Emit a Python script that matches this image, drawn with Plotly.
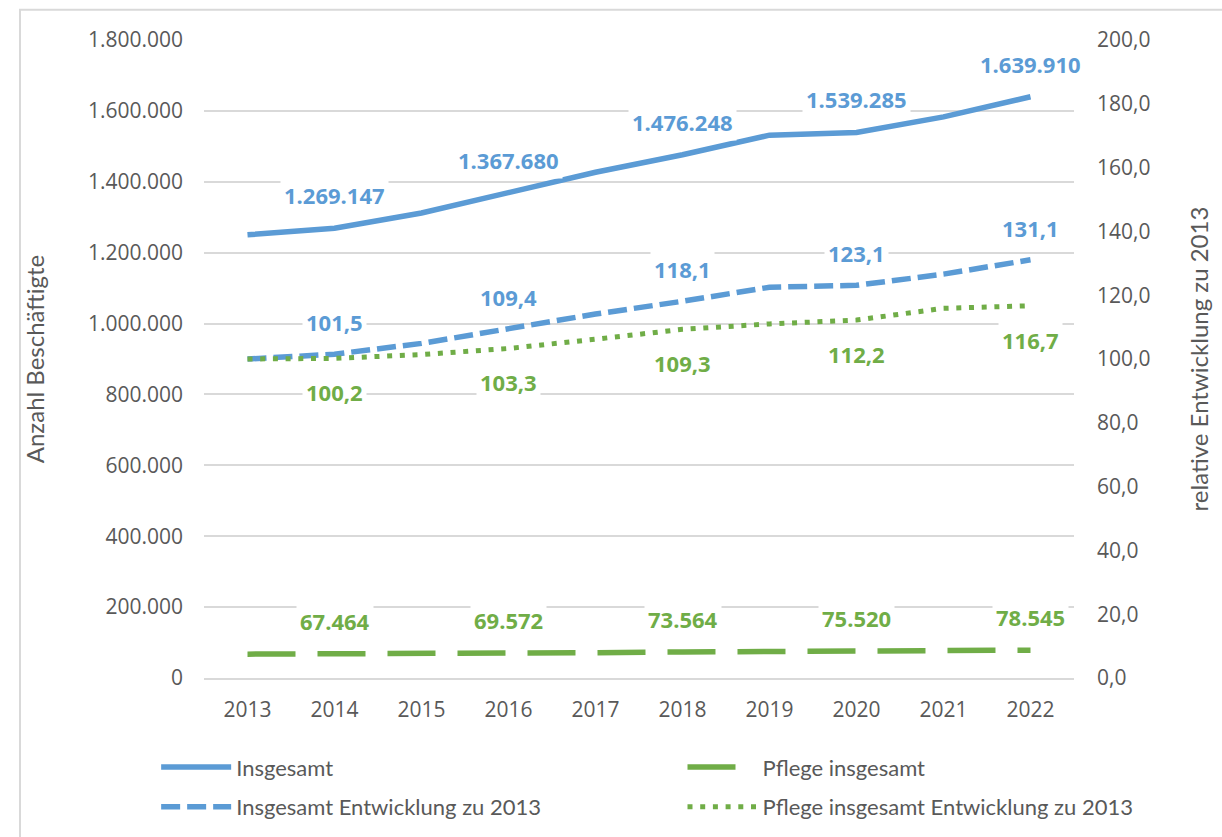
import plotly.graph_objects as go

years = ["2013", "2014", "2015", "2016", "2017", "2018", "2019", "2020", "2021", "2022"]
insgesamt = [1250400, 1269147, 1312000, 1367680, 1427000, 1476248, 1531500, 1539285, 1583000, 1639910]
insgesamt_entw = [100.0, 101.5, 104.9, 109.4, 114.1, 118.1, 122.5, 123.1, 126.6, 131.1]
pflege = [67329, 67464, 68272, 69572, 71500, 73564, 74735, 75520, 78034, 78545]
pflege_entw = [100.0, 100.2, 101.4, 103.3, 106.2, 109.3, 111.0, 112.2, 115.9, 116.7]
label_idx = [1, 3, 5, 7, 9]

BLUE = "#5B9BD5"
GREEN = "#70AD47"
GRAY = "#595959"
GRID = "#D9D9D9"

def fmt_int(v):
    return f"{v:,}".replace(",", ".")

def fmt_dec(v):
    return f"{v:.1f}".replace(".", ",")

fig = go.Figure()
fig.add_trace(go.Scatter(x=years, y=insgesamt, name="Insgesamt", mode="lines",
                         line=dict(color=BLUE, width=5.5), yaxis="y",
                         legend="legend", legendgroup="a"))
fig.add_trace(go.Scatter(x=years, y=insgesamt_entw, name="Insgesamt Entwicklung zu 2013", mode="lines",
                         line=dict(color=BLUE, width=5.5, dash="19px,7px"), yaxis="y2",
                         legend="legend", legendgroup="b"))
fig.add_trace(go.Scatter(x=years, y=pflege, name="Pflege insgesamt", mode="lines",
                         line=dict(color=GREEN, width=5.5, dash="48px,22px"), yaxis="y",
                         legend="legend2", legendgroup="c"))
fig.add_trace(go.Scatter(x=years, y=pflege_entw, name="Pflege insgesamt Entwicklung zu 2013", mode="lines",
                         line=dict(color=GREEN, width=5, dash="5px,7.7px"), yaxis="y2",
                         legend="legend2", legendgroup="d"))

ann = []
lab_font = dict(family="Open Sans", size=22, weight="bold")
for i in label_idx:
    ann.append(dict(x=i, y=insgesamt[i], xref="x", yref="y", text=fmt_int(insgesamt[i]),
                    showarrow=False, yshift=33, bgcolor="white", borderpad=3,
                    font=dict(lab_font, color=BLUE)))
    ann.append(dict(x=i, y=pflege[i], xref="x", yref="y", text=fmt_int(pflege[i]),
                    showarrow=False, yshift=33, bgcolor="white", borderpad=3,
                    font=dict(lab_font, color=GREEN)))
    ann.append(dict(x=i, y=insgesamt_entw[i], xref="x", yref="y2", text=fmt_dec(insgesamt_entw[i]),
                    showarrow=False, yshift=32, bgcolor="white", borderpad=3,
                    font=dict(lab_font, color=BLUE)))
    ann.append(dict(x=i, y=pflege_entw[i], xref="x", yref="y2", text=fmt_dec(pflege_entw[i]),
                    showarrow=False, yshift=-34, bgcolor="white", borderpad=3,
                    font=dict(lab_font, color=GREEN)))

leg_font = dict(family="Lato", size=22, color=GRAY)
fig.update_layout(
    width=1222, height=837,
    margin=dict(l=204, r=148, t=40, b=159, autoexpand=False),
    paper_bgcolor="white", plot_bgcolor="white",
    separators=",.",
    font=dict(family="Open Sans", color=GRAY, size=21),
    xaxis=dict(type="category", range=[-0.5, 9.5], showgrid=False, showline=True, linecolor=GRID,
               linewidth=1.5, ticks="", ticklabelstandoff=12,
               tickfont=dict(family="Open Sans", size=21, color=GRAY)),
    yaxis=dict(range=[0, 1800000], dtick=200000, tickformat=",d", showgrid=True, gridcolor=GRID,
               gridwidth=1.5, zeroline=True, zerolinecolor=GRID, zerolinewidth=1.5,
               ticks="", ticklabelstandoff=20, tickfont=dict(family="Open Sans", size=21, color=GRAY),
               title=dict(text="Anzahl Beschäftigte", standoff=36,
                          font=dict(family="Lato", size=24, color=GRAY))),
    yaxis2=dict(range=[0, 200], dtick=20, tickformat=".1f", overlaying="y", side="right",
                showgrid=False, zeroline=False, ticks="", ticklabelstandoff=22,
                tickfont=dict(family="Open Sans", size=21, color=GRAY),
                title=dict(text="relative Entwicklung zu 2013", standoff=41,
                           font=dict(family="Lato", size=24, color=GRAY))),
    legend=dict(orientation="v", xref="paper", yref="paper", x=-0.055, xanchor="left",
                y=-0.107, yanchor="top", itemwidth=70, font=leg_font, tracegroupgap=8,
                bgcolor="rgba(0,0,0,0)"),
    legend2=dict(orientation="v", xref="paper", yref="paper", x=0.55, xanchor="left",
                 y=-0.107, yanchor="top", itemwidth=70, font=leg_font, tracegroupgap=8,
                 bgcolor="rgba(0,0,0,0)"),
    annotations=ann,
    shapes=[dict(type="rect", xref="paper", yref="paper", x0=-0.2115, x1=1.18, y0=-0.3, y1=1.0475,
                 line=dict(color=GRID, width=2), layer="below")],
    showlegend=True,
)

fig.write_html("out.html")
